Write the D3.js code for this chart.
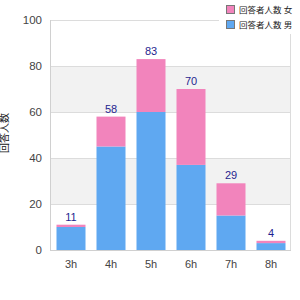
<!DOCTYPE html>
<html><head><meta charset="utf-8">
<script src="https://cdn.jsdelivr.net/npm/d3@7/dist/d3.min.js"></script>
<style>body{margin:0;background:#fff}svg{display:block}text{font-family:"Liberation Sans","Noto Sans CJK JP",sans-serif}</style>
</head><body><svg id="c" width="300" height="300"></svg>
<script>
const categories = ["3h","4h","5h","6h","7h","8h"];
const maleValues = [10,45,60,37,15,3];
const femaleValues = [1,13,23,33,14,1];
const totals = [11,58,83,70,29,4];
const yTicks = [0,20,40,60,80,100];
const seriesNames = ["回答者人数 女","回答者人数 男"];
const yLabel = "回答人数";

const svg = d3.select("#c");
const x = d3.scaleBand().domain(categories).range([51,291]).paddingInner(0.275).paddingOuter(0.1375);
const y = d3.scaleLinear().domain([0,100]).range([250,20]);
const pink = "#f284bc", blue = "#5fa8f1";

// alternating bands
for (let i=0;i<yTicks.length-1;i++){
  if (i%2===1) svg.append("rect").attr("x",50).attr("width",241)
    .attr("y",y(yTicks[i+1])).attr("height",y(yTicks[i])-y(yTicks[i+1])).attr("fill","#f2f2f2");
}
svg.selectAll("line.g").data(yTicks.slice(1)).join("line")
  .attr("x1",50).attr("x2",291).attr("y1",d=>y(d)+0.5).attr("y2",d=>y(d)+0.5)
  .attr("stroke","#dcdcdc");
svg.append("line").attr("x1",290.5).attr("x2",290.5).attr("y1",20).attr("y2",250).attr("stroke","#dcdcdc");
svg.append("line").attr("x1",50.5).attr("x2",50.5).attr("y1",20).attr("y2",250.5).attr("stroke","#d0d0d0");
svg.append("line").attr("x1",50).attr("x2",291).attr("y1",250.5).attr("y2",250.5).attr("stroke","#d0d0d0");

// bars
svg.selectAll("rect.m").data(categories).join("rect")
  .attr("x",d=>x(d)).attr("width",x.bandwidth())
  .attr("y",(d,i)=>y(maleValues[i])).attr("height",(d,i)=>y(0)-y(maleValues[i])).attr("fill",blue);
svg.selectAll("rect.f").data(categories).join("rect")
  .attr("x",d=>x(d)).attr("width",x.bandwidth())
  .attr("y",(d,i)=>y(maleValues[i]+femaleValues[i])).attr("height",(d,i)=>y(0)-y(femaleValues[i])).attr("fill",pink);
svg.selectAll("text.v").data(categories).join("text")
  .attr("x",d=>x(d)+x.bandwidth()/2).attr("y",(d,i)=>y(totals[i])-4)
  .attr("text-anchor","middle").attr("font-size",11).attr("fill","#1f1f8f").text((d,i)=>totals[i]);

// axes labels
svg.selectAll("text.yt").data(yTicks).join("text")
  .attr("x",42).attr("y",d=>y(d)+4).attr("text-anchor","end")
  .attr("font-size",11.5).attr("fill","#444").text(d=>d);
svg.selectAll("text.xt").data(categories).join("text")
  .attr("x",d=>x(d)+x.bandwidth()/2).attr("y",268).attr("text-anchor","middle")
  .attr("font-size",11).attr("fill","#444").text(d=>d);
svg.append("text").attr("transform","translate(8,133) rotate(-90)").attr("text-anchor","middle")
  .attr("font-size",10).attr("fill","#222").text(yLabel);

// legend
svg.append("rect").attr("x",219).attr("y",0).attr("width",81).attr("height",34).attr("fill","#fff");
const lg = svg.selectAll("g.l").data(seriesNames).join("g").attr("transform",(d,i)=>`translate(226,${5+i*15})`);
lg.append("rect").attr("x",0.5).attr("y",0.5).attr("width",8).attr("height",8)
  .attr("fill",(d,i)=>i===0?pink:blue).attr("stroke","#777");
lg.append("text").attr("x",13).attr("y",8).attr("font-size",8.5).attr("fill","#222").text(d=>d);
</script></body></html>
